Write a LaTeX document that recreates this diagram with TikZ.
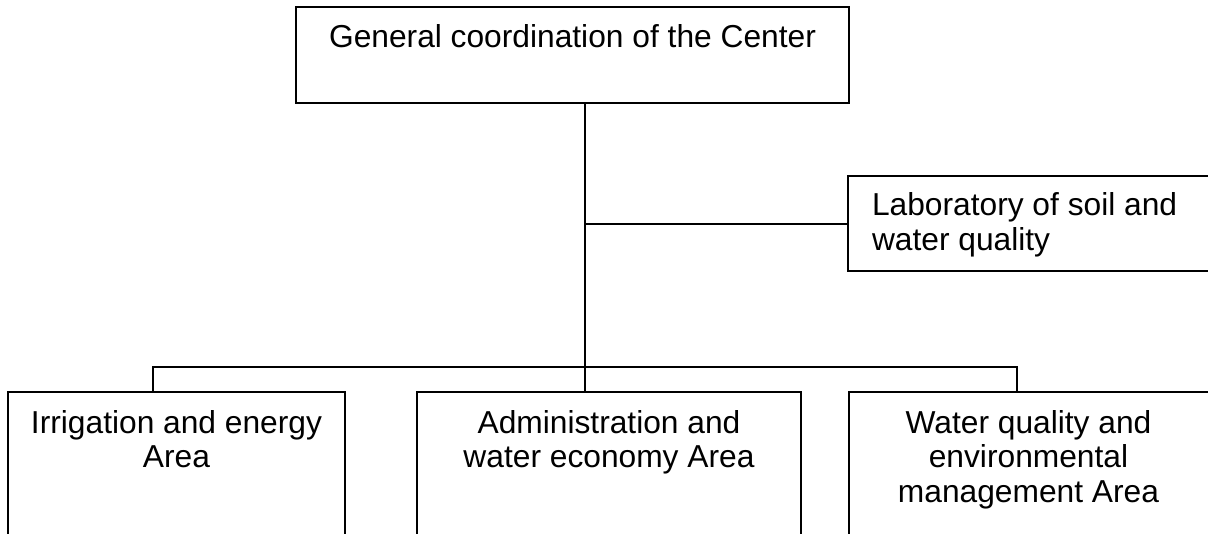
\documentclass[tikz,border=0pt]{standalone}
\usepackage{fontspec}
\setmainfont{Liberation Sans}
\begin{document}
\begin{tikzpicture}[x=0.75pt,y=-0.75pt,line width=1.5pt,
    unit/.style={draw,rectangle,inner sep=0pt},
    caption/.style={inner sep=0pt,align=center,anchor=north,
        font=\fontsize{23.8}{25.9}\selectfont}]
    \path[use as bounding box,clip] (0,0) rectangle (1208,533);

    % boxes (sizes in px); lab and the bottom row run off the page
    \node[unit,minimum width=553*0.75pt,minimum height=96*0.75pt] (chief) at (572.5,55) {};
    \node[unit,minimum width=367*0.75pt,minimum height=95*0.75pt] (lab) at (1031.5,223.5) {};
    \node[unit,minimum width=337*0.75pt,minimum height=168*0.75pt] (irr) at (176.5,476) {};
    \node[unit,minimum width=384*0.75pt,minimum height=168*0.75pt] (adm) at (609,476) {};
    \node[unit,minimum width=366*0.75pt,minimum height=168*0.75pt] (wq) at (1032,476) {};

    \node[caption] (chieftxt) at (572.5,24) {General coordination of the Center};
    \node[caption,anchor=north west,align=left] (labtxt) at (871,191.5) {Laboratory of soil and\\water quality};
    \node[caption] (irrtxt) at (176.5,409) {Irrigation and energy\\Area};
    \node[caption] (admtxt) at (609,409) {Administration and\\water economy Area};
    \node[caption] (wqtxt) at (1028.5,409) {Water quality and\\environmental\\management Area};

    % trunk and bus
    \coordinate (hub) at (585,367);
    \coordinate (busL) at (153,367);
    \coordinate (busR) at (1017,367);
    \draw (chief.south -| hub) -- (hub);
    \draw (lab.west) -- (lab.west -| hub);
    \draw (busL |- irr.north) -- (busL) -- (busR) -- (busR |- wq.north);
    \draw (hub) -- (hub |- adm.north);
\end{tikzpicture}
\end{document}
